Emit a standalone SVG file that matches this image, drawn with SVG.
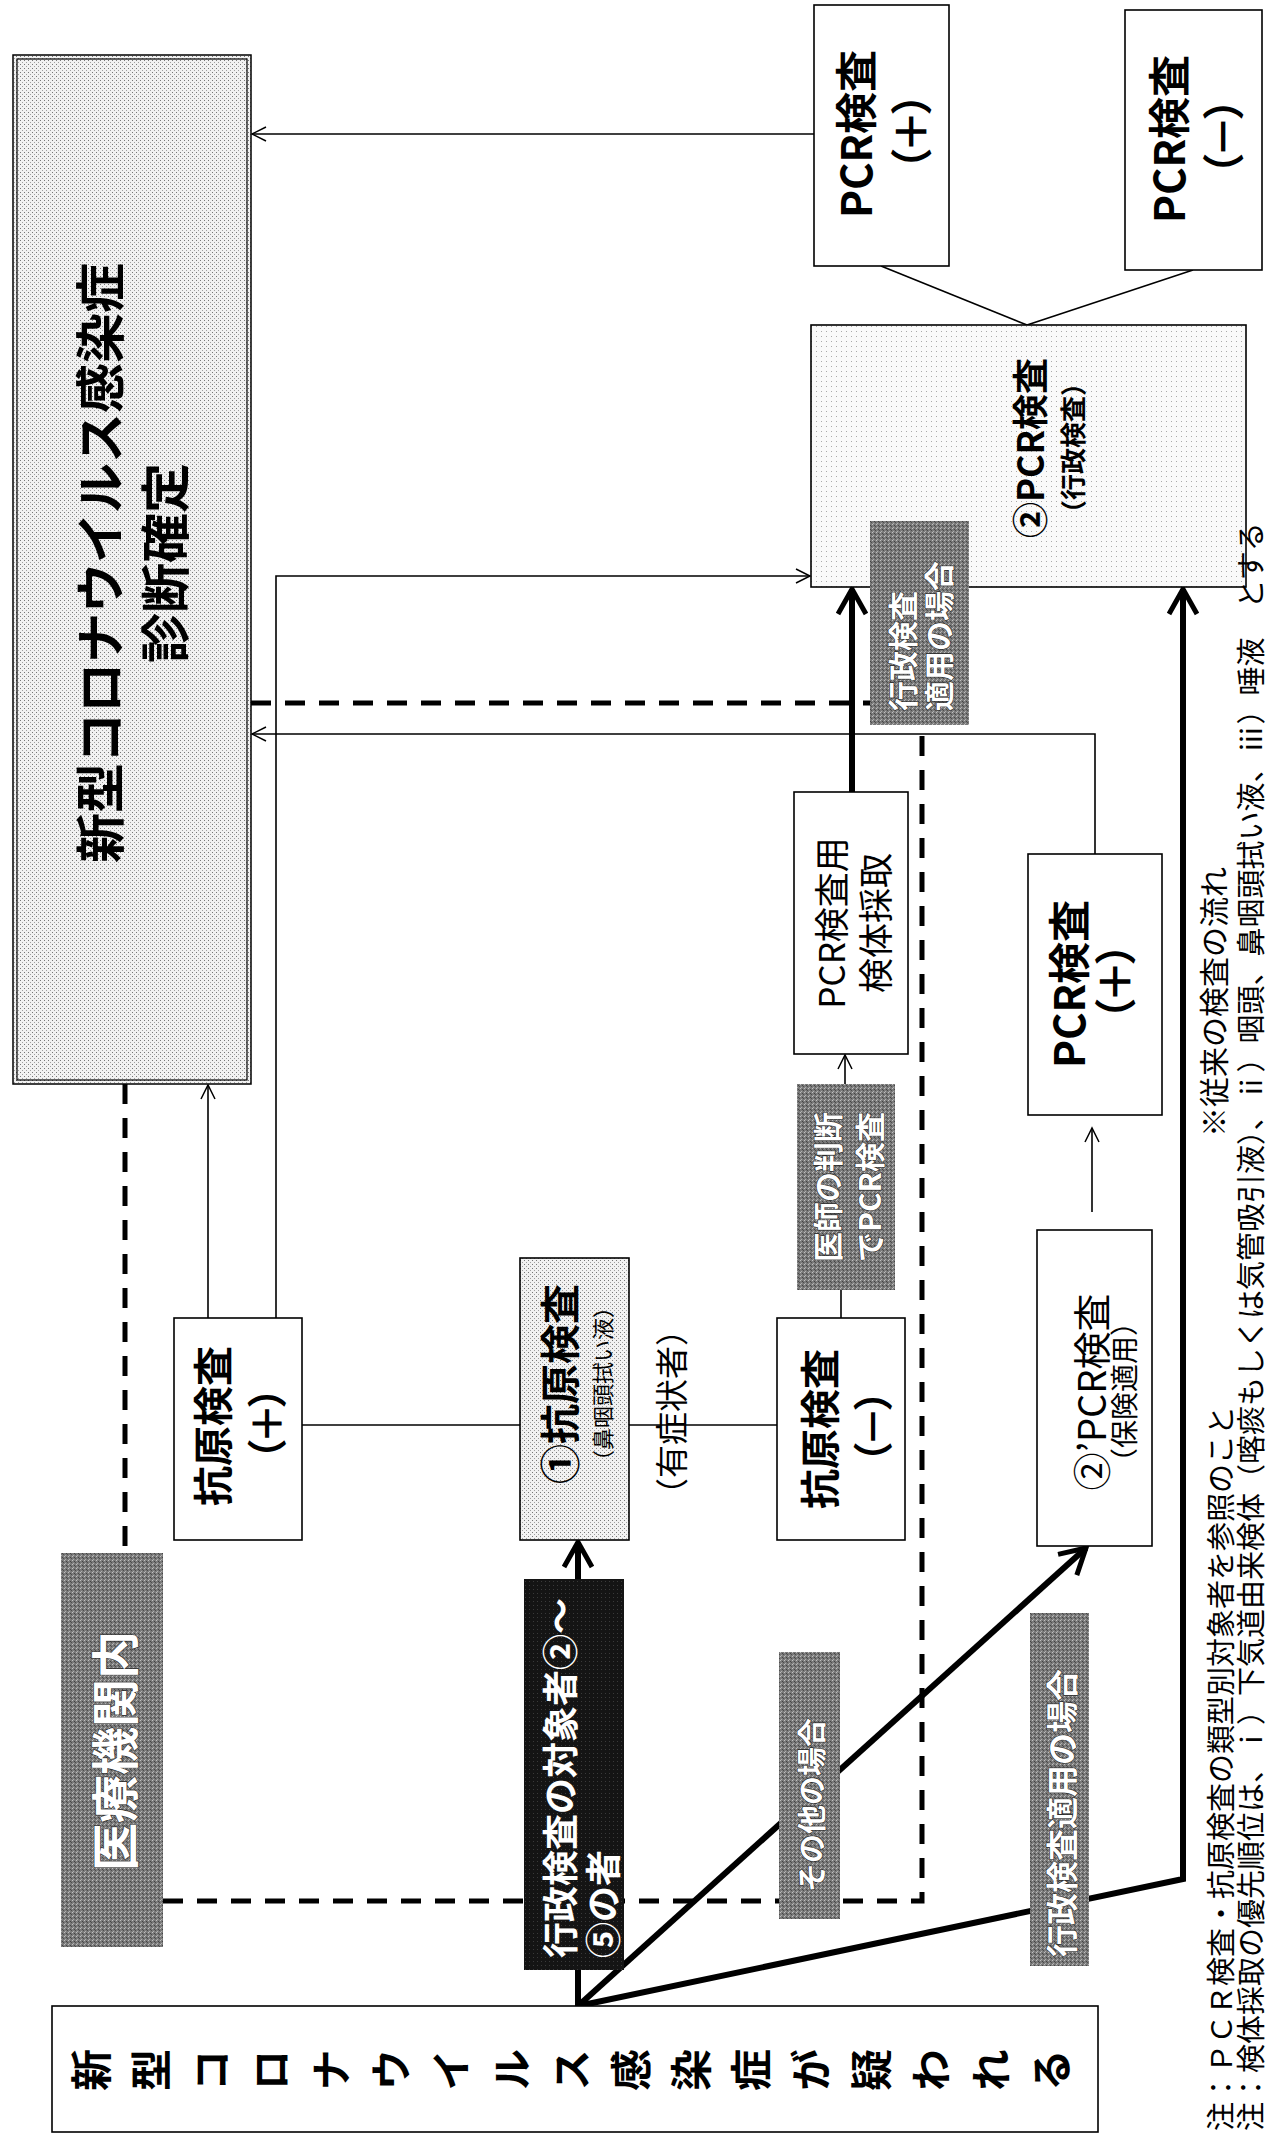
<svg xmlns="http://www.w3.org/2000/svg" width="1266" height="2134" viewBox="0 0 1266 2134">
<defs>
<style>
.box{fill:#fff;stroke:#000;stroke-width:1.6}
.t{font-family:'Noto Sans CJK JP','Noto Sans CJK SC',sans-serif;dominant-baseline:central;text-anchor:middle;fill:#000}
.s{text-anchor:start}
.b{font-weight:700}
.w{fill:#fff}
.wo{fill:#fff;stroke:#2a2a2a;stroke-width:1.2;paint-order:stroke}
.thin{fill:none;stroke:#000;stroke-width:1.6}
.thick{fill:none;stroke:#000;stroke-width:6}
.dash{fill:none;stroke:#000;stroke-width:5;stroke-dasharray:20 14}
.gray{fill:url(#grayNoise)}
</style>
<pattern id="dotsLight" width="4" height="4" patternUnits="userSpaceOnUse"><rect width="4" height="4" fill="#f2f2f2"/><rect x="0" y="0" width="1" height="1" fill="#777"/><rect x="2" y="2" width="1" height="1" fill="#a0a0a0"/></pattern>
<pattern id="dotsFaint" width="5" height="5" patternUnits="userSpaceOnUse"><rect width="5" height="5" fill="#fafafa"/><rect x="1" y="1" width="1" height="1" fill="#aaa"/></pattern>
<pattern id="grayNoise" width="4" height="4" patternUnits="userSpaceOnUse"><rect width="4" height="4" fill="#7a7a7a"/><rect x="0" y="0" width="1" height="1" fill="#c0c0c0"/><rect x="2" y="1" width="1" height="1" fill="#444"/><rect x="1" y="3" width="1" height="1" fill="#b0b0b0"/><rect x="3" y="2" width="1" height="1" fill="#4d4d4d"/></pattern>
<pattern id="blackNoise" width="4" height="4" patternUnits="userSpaceOnUse"><rect width="4" height="4" fill="#141414"/><rect x="1" y="1" width="1" height="1" fill="#3a3a3a"/></pattern>
<marker id="aThin" markerUnits="userSpaceOnUse" markerWidth="20" markerHeight="20" refX="16" refY="10" orient="auto"><path d="M2,3 L16,10 L2,17" fill="none" stroke="#000" stroke-width="1.5"/></marker>
<marker id="aThick" markerUnits="userSpaceOnUse" markerWidth="36" markerHeight="36" refX="30" refY="18" orient="auto"><path d="M5,4 L30,18 L5,32" fill="none" stroke="#000" stroke-width="5"/></marker>
</defs>
<rect width="1266" height="2134" fill="#fff"/>

<g id="connectors">
<line class="thin" x1="814" y1="134" x2="252" y2="134" marker-end="url(#aThin)"/>
<line class="thin" x1="881" y1="266" x2="1027" y2="325"/>
<line class="thin" x1="1193" y1="270" x2="1027" y2="325"/>
<polyline class="thin" points="276,1318 276,576 810,576" marker-end="url(#aThin)"/>
<line class="thin" x1="208" y1="1318" x2="208" y2="1085" marker-end="url(#aThin)"/>
<line class="thin" x1="302" y1="1425" x2="520" y2="1425"/>
<line class="thin" x1="629" y1="1425" x2="777" y2="1425"/>
<line class="thin" x1="841" y1="1318" x2="841" y2="1290"/>
<line class="thin" x1="845" y1="1084" x2="845" y2="1055" marker-end="url(#aThin)"/>
<line class="thick" x1="852" y1="792" x2="852" y2="589" marker-end="url(#aThick)"/>
<polyline class="thin" points="1095,854 1095,734 252,734" marker-end="url(#aThin)"/>
<line class="thin" x1="1092" y1="1212" x2="1092" y2="1128" marker-end="url(#aThin)"/>
<line class="thick" x1="578" y1="2006" x2="578" y2="1542" marker-end="url(#aThick)"/>
<line class="thick" x1="578" y1="2006" x2="1086" y2="1548" marker-end="url(#aThick)"/>
<polyline class="thick" points="578,2006 1183,1879 1183,589" marker-end="url(#aThick)"/>
<line class="dash" x1="125" y1="1084" x2="125" y2="1553"/>
<polyline class="dash" points="163,1901 922,1901 922,725"/>
<line class="dash" x1="251" y1="703" x2="870" y2="703"/>
</g>

<g id="node-diagnosis">
<rect x="13" y="55" width="238" height="1029" fill="url(#dotsLight)" stroke="#000" stroke-width="1.5"/>
<rect x="17" y="59" width="230" height="1021" fill="none" stroke="#000" stroke-width="1.2"/>
<text class="t b" font-size="50" transform="translate(97,563) rotate(-90)"><tspan x="0" dy="0">新型コロナウイルス感染症</tspan><tspan x="0" dy="65">診断確定</tspan></text>
</g>

<g id="node-pcr-pos-top">
<rect class="box" x="814" y="5" width="135" height="261"/>
<text class="t b" font-size="42" transform="translate(853,134) rotate(-90)"><tspan x="0" dy="0">PCR検査</tspan><tspan x="0" dy="55" letter-spacing="-5">（＋）</tspan></text>
</g>

<g id="node-pcr-neg-top">
<rect class="box" x="1125" y="10" width="137" height="260"/>
<text class="t b" font-size="42" transform="translate(1166,139) rotate(-90)"><tspan x="0" dy="0">PCR検査</tspan><tspan x="0" dy="54" letter-spacing="-5">（－）</tspan></text>
</g>

<g id="node-pcr-admin">
<rect x="811" y="325" width="435" height="262" fill="url(#dotsFaint)" stroke="#000" stroke-width="1.6"/>
<text class="t b" font-size="36" transform="translate(1028,448) rotate(-90)"><tspan x="0" dy="0">②PCR検査</tspan><tspan x="0" dy="43" font-size="26">（行政検査）</tspan></text>
</g>

<g id="label-admin-upper">
<rect class="gray" x="870" y="521" width="99" height="204"/>
<text class="t s b wo" font-size="30" transform="translate(901,711) rotate(-90)"><tspan x="0" dy="0">行政検査</tspan><tspan x="0" dy="36">適用の場合</tspan></text>
</g>

<g id="node-sample">
<rect class="box" x="794" y="792" width="114" height="262"/>
<text class="t" font-size="35" transform="translate(829,923) rotate(-90)"><tspan x="0" dy="0">PCR検査用</tspan><tspan x="0" dy="44">検体採取</tspan></text>
</g>

<g id="label-doctor">
<rect class="gray" x="797" y="1084" width="98" height="206"/>
<text class="t b wo" font-size="30" transform="translate(826,1187) rotate(-90)"><tspan x="0" dy="0">医師の判断</tspan><tspan x="0" dy="42">でPCR検査</tspan></text>
</g>

<g id="node-ag-neg">
<rect class="box" x="777" y="1318" width="128" height="222"/>
<text class="t b" font-size="40" transform="translate(818,1429) rotate(-90)"><tspan x="0" dy="0">抗原検査</tspan><tspan x="0" dy="53" letter-spacing="-5">（－）</tspan></text>
</g>

<g id="node-pcr-pos-mid">
<rect class="box" x="1028" y="854" width="134" height="261"/>
<text class="t b" font-size="42" transform="translate(1066,984) rotate(-90)"><tspan x="0" dy="0">PCR検査</tspan><tspan x="0" dy="46" letter-spacing="-5">（＋）</tspan></text>
</g>

<g id="node-pcr-insurance">
<rect class="box" x="1037" y="1230" width="115" height="316"/>
<text class="t" font-size="38" transform="translate(1089,1392) rotate(-90)"><tspan x="0" dy="0">②’PCR検査</tspan><tspan x="0" dy="34" font-size="28">（保険適用）</tspan></text>
</g>

<g id="node-ag-test">
<rect x="520" y="1258" width="109" height="282" fill="url(#dotsLight)" stroke="#000" stroke-width="1.6"/>
<text class="t b" font-size="40" transform="translate(558,1384) rotate(-90)"><tspan x="0" dy="0">①抗原検査</tspan><tspan x="0" dy="43" font-size="22" font-weight="400">（鼻咽頭拭い液）</tspan></text>
</g>

<g id="node-ag-pos">
<rect class="box" x="174" y="1318" width="128" height="222"/>
<text class="t b" font-size="40" transform="translate(211,1426) rotate(-90)"><tspan x="0" dy="0">抗原検査</tspan><tspan x="0" dy="54" letter-spacing="-5">（＋）</tspan></text>
</g>

<g id="label-symptom">
<text class="t" font-size="33" transform="translate(670,1412) rotate(-90)">（有症状者）</text>
</g>

<g id="label-hospital">
<rect class="gray" x="61" y="1553" width="102" height="394"/>
<text class="t b wo" font-size="48" transform="translate(112,1751) rotate(-90)">医療機関内</text>
</g>

<g id="label-admin-target">
<rect x="524" y="1579" width="100" height="391" fill="url(#blackNoise)"/>
<text class="t s b w" font-size="36" transform="translate(558,1958) rotate(-90)"><tspan x="0" dy="0">行政検査の対象者②〜</tspan><tspan x="0" dy="43">⑤の者</tspan></text>
</g>

<g id="label-other">
<rect class="gray" x="779" y="1652" width="61" height="267"/>
<text class="t s b wo" font-size="29" transform="translate(810,1892) rotate(-90)">その他の場合</text>
</g>

<g id="label-admin-lower">
<rect class="gray" x="1030" y="1613" width="59" height="353"/>
<text class="t s b wo" font-size="32" transform="translate(1060,1957) rotate(-90)">行政検査適用の場合</text>
</g>

<g id="node-suspected">
<rect class="box" x="52" y="2006" width="1046" height="126"/>
<text font-family="'Noto Sans CJK JP','Noto Sans CJK SC',sans-serif" font-weight="700" font-size="42" letter-spacing="18" style="writing-mode:vertical-rl" x="0" y="0" transform="translate(70,2070) rotate(-90)">新型コロナウイルス感染症が疑われる</text>
</g>

<g id="notes">
<text class="t" font-size="30" transform="translate(1212,1002) rotate(-90)">※従来の検査の流れ</text>
<text class="t s" font-size="29" transform="translate(1219,2131) rotate(-90)">注：ＰＣＲ検査・抗原検査の類型別対象者を参照のこと</text>
<text class="t s" font-size="29" transform="translate(1249,2131) rotate(-90)">注：検体採取の優先順位は、ⅰ）下気道由来検体（喀痰もしくは気管吸引液）、ⅱ）咽頭、鼻咽頭拭い液、ⅲ）唾液　とする</text>
</g>
</svg>
